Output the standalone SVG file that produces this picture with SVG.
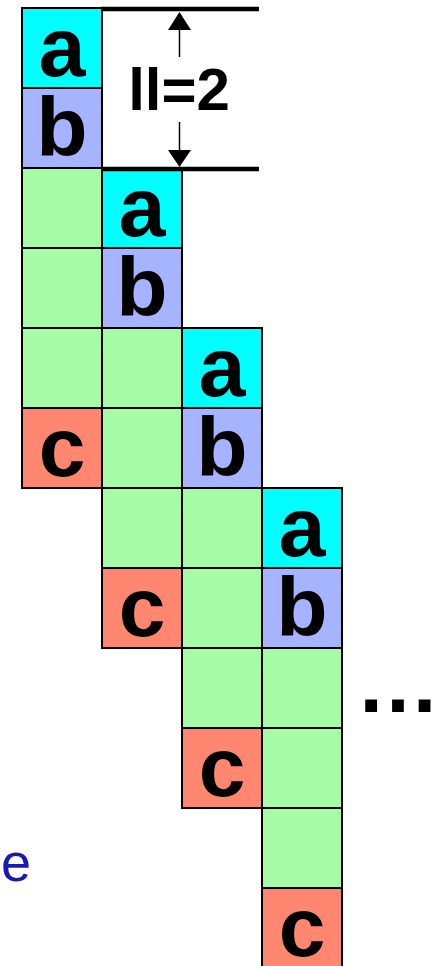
<svg xmlns="http://www.w3.org/2000/svg" width="438" height="966" viewBox="0 0 438 966">
<style>
.cell{stroke:#000;stroke-width:2}
.a{fill:#00FFFF}.b{fill:#A6B3FF}.g{fill:#A6FBA6}.c{fill:#FF876F}
.t{font-family:"Liberation Sans",Arial,sans-serif;font-weight:bold;font-size:84px;fill:#000;text-anchor:middle}
.lbl{font-family:"Liberation Sans",Arial,sans-serif;font-weight:bold;font-size:60px;fill:#000;text-anchor:middle}
.e{font-family:"Liberation Sans",Arial,sans-serif;font-size:54px;fill:#1a1aad}
.dim{stroke:#000;stroke-width:4.5}
.sh{stroke:#000;stroke-width:1.5}
</style>
<rect width="438" height="966" fill="#fff"/>
<g id="col1">
<g id="c1a"><rect class="cell a" x="22" y="8" width="80" height="80"/><text class="t" x="62" y="76">a</text></g>
<g id="c1b"><rect class="cell b" x="22" y="88" width="80" height="80"/><text class="t" x="62" y="156">b</text></g>
<g id="c1g1"><rect class="cell g" x="22" y="168" width="80" height="80"/></g>
<g id="c1g2"><rect class="cell g" x="22" y="248" width="80" height="80"/></g>
<g id="c1g3"><rect class="cell g" x="22" y="328" width="80" height="80"/></g>
<g id="c1c"><rect class="cell c" x="22" y="408" width="80" height="80"/><text class="t" x="62" y="476">c</text></g>
</g>
<g id="col2">
<g id="c2a"><rect class="cell a" x="102" y="168" width="80" height="80"/><text class="t" x="142" y="236">a</text></g>
<g id="c2b"><rect class="cell b" x="102" y="248" width="80" height="80"/><text class="t" x="142" y="316">b</text></g>
<g id="c2g1"><rect class="cell g" x="102" y="328" width="80" height="80"/></g>
<g id="c2g2"><rect class="cell g" x="102" y="408" width="80" height="80"/></g>
<g id="c2g3"><rect class="cell g" x="102" y="488" width="80" height="80"/></g>
<g id="c2c"><rect class="cell c" x="102" y="568" width="80" height="80"/><text class="t" x="142" y="636">c</text></g>
</g>
<g id="col3">
<g id="c3a"><rect class="cell a" x="182" y="328" width="80" height="80"/><text class="t" x="222" y="396">a</text></g>
<g id="c3b"><rect class="cell b" x="182" y="408" width="80" height="80"/><text class="t" x="222" y="476">b</text></g>
<g id="c3g1"><rect class="cell g" x="182" y="488" width="80" height="80"/></g>
<g id="c3g2"><rect class="cell g" x="182" y="568" width="80" height="80"/></g>
<g id="c3g3"><rect class="cell g" x="182" y="648" width="80" height="80"/></g>
<g id="c3c"><rect class="cell c" x="182" y="728" width="80" height="80"/><text class="t" x="222" y="796">c</text></g>
</g>
<g id="col4">
<g id="c4a"><rect class="cell a" x="262" y="488" width="80" height="80"/><text class="t" x="302" y="556">a</text></g>
<g id="c4b"><rect class="cell b" x="262" y="568" width="80" height="80"/><text class="t" x="302" y="636">b</text></g>
<g id="c4g1"><rect class="cell g" x="262" y="648" width="80" height="80"/></g>
<g id="c4g2"><rect class="cell g" x="262" y="728" width="80" height="80"/></g>
<g id="c4g3"><rect class="cell g" x="262" y="808" width="80" height="80"/></g>
<g id="c4c"><rect class="cell c" x="262" y="888" width="80" height="80"/><text class="t" x="302" y="956">c</text></g>
</g>
<g id="connectors">
<line class="dim" x1="101" y1="9" x2="259" y2="9"/>
<line class="dim" x1="101" y1="169" x2="259" y2="169"/>
<line class="sh" x1="179.5" y1="29" x2="179.5" y2="57"/>
<polygon points="179.5,12 168,30 191,30" fill="#000"/>
<line class="sh" x1="179.5" y1="122" x2="179.5" y2="151"/>
<polygon points="179.5,167 168,150 191,150" fill="#000"/>
</g>
<g id="label"><text class="lbl" x="179" y="110">ll=2</text></g>
<g id="dots"><text x="356" y="712" font-family="'Liberation Sans',Arial,sans-serif" font-weight="bold" font-size="84">…</text></g>
<g id="e-label"><text class="e" x="1" y="881">e</text></g>
</svg>
